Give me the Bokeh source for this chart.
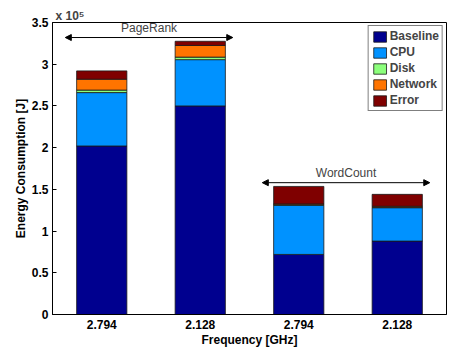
from bokeh.plotting import figure
from bokeh.models import ColumnDataSource, Range1d, FixedTicker, Arrow, NormalHead, Label, Title
from bokeh.embed import file_html
from bokeh.resources import INLINE

# ---- data (energy in units of 1e5 J) ----
positions = [1, 2, 3, 4]
freq_labels = ["2.794", "2.128", "2.794", "2.128"]
baseline = [2.02, 2.50, 0.72, 0.88]
cpu = [0.64, 0.555, 0.59, 0.40]
disk = [0.03, 0.03, 0.005, 0.005]
network = [0.13, 0.14, 0.01, 0.012]
error = [0.10, 0.05, 0.21, 0.143]
components = ["Baseline", "CPU", "Disk", "Network", "Error"]
workloads = ["PageRank", "WordCount"]
workload_bars = [[0, 1], [2, 3]]
y_ticks = [0, 0.5, 1, 1.5, 2, 2.5, 3, 3.5]
y_tick_labels = ["0", "0.5", "1", "1.5", "2", "2.5", "3", "3.5"]

colors = ["#00008F", "#0092FF", "#8CFF7C", "#FF7400", "#7F0000"]
FONT = "Liberation Sans"

source = ColumnDataSource(dict(x=positions, Baseline=baseline, CPU=cpu, Disk=disk,
                               Network=network, Error=error))

p = figure(width=449, height=349, x_range=Range1d(0.5, 4.5), y_range=Range1d(0, 3.5),
           output_backend="svg", toolbar_location=None,
           min_border_left=52, min_border_right=3, min_border_top=22, min_border_bottom=33)

p.add_layout(Title(text="x 10\u2075", align="left", text_font=FONT, text_font_style="bold",
                   text_font_size="12px", offset=3, standoff=0), "above")

p.vbar_stack(components, x="x", width=0.51, color=colors, source=source,
             line_color="#1a1a1a", line_width=0.8, legend_label=components)

p.xgrid.grid_line_color = None
p.ygrid.grid_line_color = None
p.outline_line_color = "black"
p.outline_line_alpha = 1

p.xaxis.ticker = FixedTicker(ticks=positions)
p.xaxis.major_label_overrides = {pos: lab for pos, lab in zip(positions, freq_labels)}
p.yaxis.ticker = FixedTicker(ticks=y_ticks)
p.yaxis.major_label_overrides = {t: l for t, l in zip(y_ticks, y_tick_labels)}

for ax in (p.xaxis[0], p.yaxis[0]):
    ax.axis_line_color = "black"
    ax.major_tick_line_color = "black"
    ax.minor_tick_line_color = None
    ax.major_tick_out = 0
    ax.major_label_text_font = FONT
    ax.major_label_text_font_style = "bold"
    ax.major_label_text_font_size = "12px"
    ax.major_label_text_color = "black"
    ax.axis_label_text_font = FONT
    ax.axis_label_text_font_style = "bold"
    ax.axis_label_text_font_size = "12px"
    ax.axis_label_text_color = "black"
p.xaxis.major_tick_in = 0
p.yaxis.major_tick_in = 4
p.xaxis.axis_label = "Frequency [GHz]"
p.yaxis.axis_label = "Energy Consumption [J]"
p.xaxis.major_label_standoff = 5
p.xaxis.axis_label_standoff = 1
p.yaxis.major_label_standoff = 4
p.yaxis.axis_label_standoff = 1

# workload arrows
totals = [b + c + d + n + e for b, c, d, n, e in zip(baseline, cpu, disk, network, error)]
for name, idx in zip(workloads, workload_bars):
    ys = max(totals[i] for i in idx) + 0.045
    x0 = positions[idx[0]] - 0.37
    x1 = positions[idx[-1]] + 0.33
    p.add_layout(Arrow(x_start=x0, y_start=ys, x_end=x1, y_end=ys, line_color="black",
                       line_width=1,
                       start=NormalHead(size=6, fill_color="black", line_color="black"),
                       end=NormalHead(size=6, fill_color="black", line_color="black")))
    p.add_layout(Label(x=(x0 + x1) / 2, y=ys, y_offset=3, text=name, text_font=FONT,
                       text_font_size="12px", text_align="center", text_baseline="bottom"))

lg = p.legend[0]
lg.location = "top_right"
lg.label_text_font = FONT
lg.label_text_font_style = "bold"
lg.label_text_font_size = "12px"
lg.glyph_height = 13
lg.glyph_width = 16
lg.label_height = 13
lg.spacing = 2
lg.padding = 3
lg.margin = 3
lg.label_standoff = 2
lg.border_line_color = "black"
lg.border_line_width = 1

open("out.html", "w").write(file_html(p, INLINE))
